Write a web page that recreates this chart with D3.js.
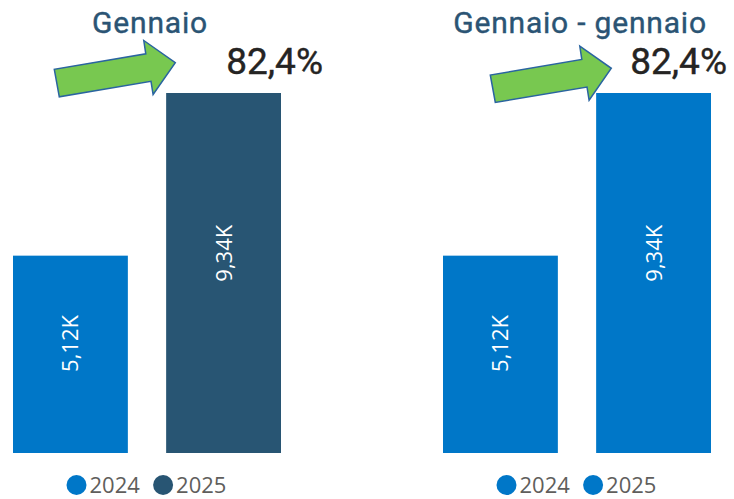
<!DOCTYPE html>
<html>
<head>
<meta charset="utf-8">
<script src="https://cdn.jsdelivr.net/npm/d3@7"></script>
<style>
  html, body { margin: 0; padding: 0; background: #fff; }
  svg { display: block; }
</style>
</head>
<body>
<div class="chart"></div>
<script>
// data
const years = ['2024', '2025'];
const valuesLeft = [5.12, 9.34];
const valuesRight = [5.12, 9.34];
const titles = ['Gennaio', 'Gennaio - gennaio'];
const changes = ['82,4%', '82,4%'];

const width = 734;
const height = 499;

const svg = d3.select('.chart')
              .append('svg')
              .attr('width', width)
              .attr('height', height);

const y = d3.scaleLinear()
            .domain([0, 9.34])
            .range([453, 93]);

const fmt = v => v.toFixed(2).replace('.', ',') + 'K';

// green arrow shape, relative to the tail corner
const arrowShape = [[0, 0], [5, 27.5], [96.7, 12], [98.8, 25.2], [121, -6.7], [89.5, -28.8], [91.5, -15.5]];

const panels = [
    {values: valuesLeft, title: titles[0], change: changes[0], range: [13, 281],
     colors: ['#0077c8', '#285573'], titleX: 150, changeX: 323, arrow: [54.3, 69.3]},
    {values: valuesRight, title: titles[1], change: changes[1], range: [443, 711],
     colors: ['#0077c8', '#0077c8'], titleX: 580, changeX: 727, arrow: [490.3, 75]}
];

panels.forEach(p => {
    const g = svg.append('g');
    const x = d3.scaleBand()
                .domain(years)
                .range(p.range)
                .paddingInner(0.25)
                .paddingOuter(0);
    const color = d3.scaleOrdinal().domain(years).range(p.colors);
    const data = years.map((yr, i) => ({year: yr, value: p.values[i]}));

    // bars
    g.selectAll('rect')
     .data(data)
     .join('rect')
     .attr('x', d => x(d.year))
     .attr('y', d => y(d.value))
     .attr('width', x.bandwidth())
     .attr('height', d => y(0) - y(d.value))
     .attr('fill', d => color(d.year));

    // value labels
    g.selectAll('text.val')
     .data(data)
     .join('text')
     .attr('class', 'val')
     .attr('transform', d => `translate(${x(d.year) + x.bandwidth() / 2 + 8}, ${y(d.value * 0.555)}) rotate(-90)`)
     .attr('text-anchor', 'middle')
     .attr('fill', '#fff')
     .style('font-family', '"Open Sans", sans-serif')
     .style('font-size', '22px')
     .text(d => fmt(d.value));

    // title
    g.append('text')
     .attr('x', p.titleX)
     .attr('y', 33)
     .attr('text-anchor', 'middle')
     .attr('fill', '#2b5474')
     .attr('stroke', '#2b5474')
     .attr('stroke-width', 0.4)
     .style('font-family', 'Roboto, sans-serif')
     .style('font-weight', 400)
     .style('font-size', '30px')
     .style('letter-spacing', '0.8px')
     .text(p.title);

    // change
    g.append('text')
     .attr('x', p.changeX)
     .attr('y', 74)
     .attr('text-anchor', 'end')
     .attr('fill', '#252423')
     .attr('stroke', '#252423')
     .attr('stroke-width', 0.4)
     .style('font-family', 'Roboto, sans-serif')
     .style('font-weight', 400)
     .style('font-size', '37px')
     .text(p.change);

    // arrow
    g.append('polygon')
     .attr('points', arrowShape.map(pt => pt.join(',')).join(' '))
     .attr('transform', `translate(${p.arrow[0]}, ${p.arrow[1]})`)
     .attr('fill', '#78c850')
     .attr('stroke', '#2a64a0')
     .attr('stroke-width', 1.5)
     .attr('stroke-linejoin', 'miter');

    // legend
    const mid = (p.range[0] + p.range[1]) / 2;
    const legend = g.append('g')
                    .attr('transform', `translate(${mid - 70.5}, 485)`);
    const items = legend.selectAll('g')
                        .data(years)
                        .join('g')
                        .attr('transform', (d, i) => `translate(${i * 86.6}, 0)`);
    items.append('circle')
         .attr('cx', 0)
         .attr('cy', 0)
         .attr('r', 10)
         .attr('fill', d => color(d));
    items.append('text')
         .attr('x', 13)
         .attr('y', 8)
         .attr('fill', '#605e5c')
         .style('font-family', '"Open Sans", sans-serif')
         .style('font-size', '22px')
         .text(d => d);
});
</script>
</body>
</html>
